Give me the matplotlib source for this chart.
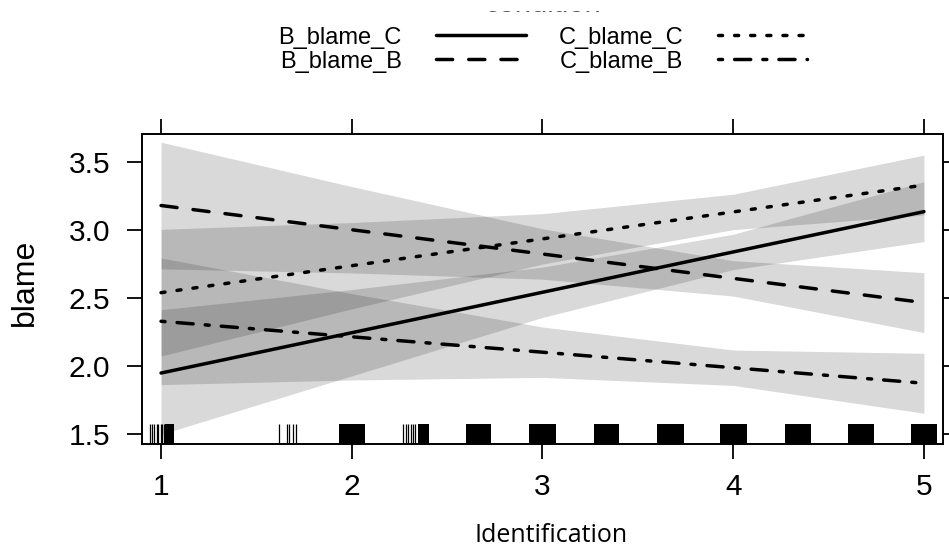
import matplotlib
matplotlib.use("Agg")
import matplotlib.pyplot as plt
from matplotlib.lines import Line2D
from matplotlib.patches import Rectangle

plt.rcParams['font.family'] = ['Liberation Sans', 'DejaVu Sans']
plt.rcParams['lines.scale_dashes'] = False

# effect estimates at Identification = 1..5
x_levels = [1, 2, 3, 4, 5]
conditions = ["B_blame_C", "B_blame_B", "C_blame_C", "C_blame_B"]

fit_BC = [1.95, 2.246, 2.543, 2.839, 3.135]
lo_BC = [1.50, 1.929, 2.358, 2.709, 2.915]
hi_BC = [2.415, 2.563, 2.728, 2.969, 3.355]

fit_BB = [3.18, 3.002, 2.824, 2.645, 2.467]
lo_BB = [2.715, 2.685, 2.639, 2.515, 2.247]
hi_BB = [3.645, 3.319, 3.009, 2.775, 2.687]

fit_CC = [2.54, 2.738, 2.935, 3.133, 3.33]
lo_CC = [2.075, 2.421, 2.75, 3.003, 3.11]
hi_CC = [3.005, 3.055, 3.12, 3.263, 3.55]

fit_CB = [2.33, 2.216, 2.103, 1.989, 1.875]
lo_CB = [1.865, 1.899, 1.918, 1.859, 1.655]
hi_CB = [2.795, 2.533, 2.288, 2.119, 2.095]

# rug: single jittered observations and dense runs (start, end)
rug_lines = [0.942, 0.954, 0.965, 0.977, 0.986, 0.998, 1.004, 1.016,
             1.619, 1.661, 1.672, 1.692, 1.708,
             2.271, 2.283, 2.297, 2.309, 2.323, 2.334]
rug_run_start = [1.021, 1.932, 2.349, 2.60, 2.93, 3.27, 3.60, 3.93, 4.27, 4.60, 4.93]
rug_run_end = [1.068, 2.070, 2.404, 2.73, 3.07, 3.40, 3.74, 4.07, 4.41, 4.74, 5.07]

x_ticks = [1, 2, 3, 4, 5]
y_ticks = [1.5, 2.0, 2.5, 3.0, 3.5]

u = 2.9  # dash unit in points
styles = {
    "B_blame_C": '-',
    "B_blame_B": (0, (4 * u, 4 * u)),
    "C_blame_C": (0, (1 * u, 3 * u)),
    "C_blame_B": (0, (1 * u, 3 * u, 4 * u, 3 * u)),
}
fits = {"B_blame_C": fit_BC, "B_blame_B": fit_BB, "C_blame_C": fit_CC, "C_blame_B": fit_CB}
lows = {"B_blame_C": lo_BC, "B_blame_B": lo_BB, "C_blame_C": lo_CC, "C_blame_B": lo_CB}
highs = {"B_blame_C": hi_BC, "B_blame_B": hi_BB, "C_blame_C": hi_CC, "C_blame_B": hi_CB}

fig = plt.figure(figsize=(9.49, 5.51), dpi=100)
ax = fig.add_axes([0.1496, 0.1947, 0.8441, 0.5616])

for c in conditions:
    ax.fill_between(x_levels, lows[c], highs[c], color='black', alpha=0.15, linewidth=0, zorder=1)

lw = 2.5
for c in conditions:
    ax.plot(x_levels, fits[c], color='black', linewidth=lw, linestyle=styles[c],
            dash_capstyle='round', solid_capstyle='round', zorder=3)

# rug
xt = ax.get_xaxis_transform()
ax.vlines(rug_lines, 0, 0.065, transform=xt, color='black', linewidth=0.9, zorder=4)
for s, e in zip(rug_run_start, rug_run_end):
    ax.axvspan(s, e, ymin=0, ymax=0.065, color='black', linewidth=0, zorder=4)

ax.set_xlim(0.9, 5.1)
ax.set_ylim(1.431, 3.703)
ax.set_xticks(x_ticks)
ax.set_yticks(y_ticks)
ax.set_xticklabels([str(t) for t in x_ticks])
ax.set_yticklabels([f"{t:.1f}" for t in y_ticks])

for sp in ax.spines.values():
    sp.set_linewidth(1.4)
ax.tick_params(axis='both', direction='out', length=10.8, width=1.3, labelsize=21.5,
               top=True, right=True, labeltop=False, labelright=False)
ax.tick_params(axis='x', pad=10)
ax.tick_params(axis='y', pad=12)

ax.set_ylabel("blame", fontsize=23, va='center')
ax.yaxis.set_label_coords(-0.146, 0.522)
ax.set_xlabel("Identification", fontsize=18, family=['Open Sans', 'DejaVu Sans'])
ax.xaxis.set_label_coords(0.511, -0.297)
ax.xaxis.label.set_va('center')

# legend (key text first, then line)
handles = [Line2D([0], [0], color='black', linewidth=lw, linestyle=styles[c],
                  dash_capstyle='round', solid_capstyle='round') for c in conditions]
fig.legend(handles, conditions, ncol=2, markerfirst=False, loc='center',
           bbox_to_anchor=(543 / 949, 1 - 49.6 / 551), frameon=False, fontsize=17,
           handlelength=3.8, handletextpad=1.45, columnspacing=1.4, labelspacing=0.09,
           borderpad=0)

# legend title, mostly cut off at the top edge as in the original
fig.text(543 / 949, 1 - 12.5 / 551, "condition", ha='center', va='baseline',
         fontsize=21, color='#555555', zorder=3)
fig.add_artist(Rectangle((0, 1 - 10.5 / 551), 1, 10.5 / 551, transform=fig.transFigure,
                         facecolor='white', edgecolor='none', zorder=10))

fig.savefig("out.png", dpi=100)
